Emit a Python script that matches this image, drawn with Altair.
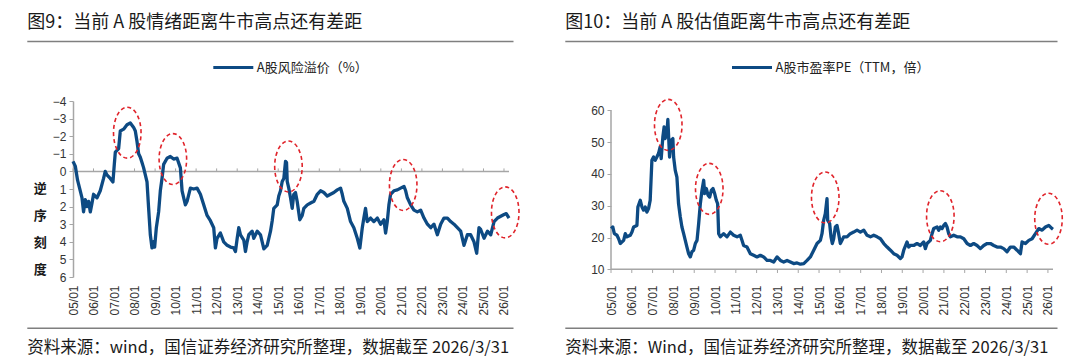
import altair as alt
import pandas as pd

# ---------------- text ----------------
TITLE_L = "图9：当前 A 股情绪距离牛市高点还有差距"
TITLE_R = "图10：当前 A 股估值距离牛市高点还有差距"
SERIES_L = "A股风险溢价（%）"
SERIES_R = "A股市盈率PE（TTM，倍）"
SOURCE_L = "资料来源：wind，国信证券经济研究所整理，数据截至 2026/3/31"
SOURCE_R = "资料来源：Wind，国信证券经济研究所整理，数据截至 2026/3/31"
YTITLE_L = "逆\n序\n刻\n度"

TICK_YEARS = [2005, 2006, 2007, 2008, 2009, 2010, 2011, 2012, 2013, 2014, 2015,
              2016, 2017, 2018, 2019, 2020, 2021, 2022, 2023, 2024, 2025, 2026]
TICK_DATES = ["%d/01/01" % y for y in TICK_YEARS]

# ---------------- left series: A-share equity risk premium (%) ----------------
ERP_DATES = [
    "2005/01/01", "2005/02/11", "2005/03/23", "2005/04/28", "2005/06/10", "2005/07/08", "2005/08/08",
    "2005/09/07", "2005/10/06", "2005/11/05", "2005/12/05", "2006/01/02", "2006/03/04", "2006/05/01",
    "2006/06/29", "2006/07/29", "2006/08/28", "2006/10/26", "2006/12/13", "2007/01/06", "2007/01/24",
    "2007/03/24", "2007/04/23", "2007/06/21", "2007/08/20", "2007/10/18", "2007/12/16", "2008/01/15",
    "2008/02/14", "2008/03/14", "2008/04/13", "2008/05/13", "2008/06/11", "2008/07/11", "2008/08/10",
    "2008/09/08", "2008/10/08", "2008/11/07", "2008/12/06", "2008/12/24", "2009/01/23", "2009/03/05",
    "2009/04/04", "2009/05/04", "2009/06/02", "2009/08/02", "2009/09/29", "2009/11/27", "2010/01/27",
    "2010/03/27", "2010/04/26", "2010/05/25", "2010/06/24", "2010/07/24", "2010/09/21", "2010/11/19",
    "2011/01/18", "2011/03/18", "2011/05/16", "2011/07/15", "2011/09/12", "2011/11/10", "2011/12/10",
    "2012/01/09", "2012/03/08", "2012/05/06", "2012/07/06", "2012/09/03", "2012/11/01", "2012/12/01",
    "2013/01/01", "2013/01/29", "2013/02/28", "2013/04/28", "2013/05/28", "2013/06/27", "2013/07/26",
    "2013/09/24", "2013/10/23", "2013/12/23", "2014/02/20", "2014/04/20", "2014/06/19", "2014/08/17",
    "2014/09/16", "2014/10/14", "2014/12/14", "2015/01/11", "2015/02/11", "2015/03/13", "2015/04/11",
    "2015/05/11", "2015/05/29", "2015/06/10", "2015/07/08", "2015/08/08", "2015/09/07", "2015/10/05",
    "2015/11/04", "2015/12/04", "2016/01/20", "2016/03/03", "2016/04/01", "2016/06/01", "2016/07/30",
    "2016/09/27", "2016/11/26", "2017/01/23", "2017/03/23", "2017/05/23", "2017/07/20", "2017/09/17",
    "2017/11/17", "2018/01/15", "2018/02/14", "2018/03/14", "2018/05/14", "2018/07/11", "2018/09/08",
    "2018/11/08", "2018/12/24", "2019/02/05", "2019/03/05", "2019/04/04", "2019/05/04", "2019/07/02",
    "2019/08/30", "2019/10/30", "2019/12/28", "2020/02/25", "2020/03/26", "2020/04/25", "2020/05/24",
    "2020/06/23", "2020/08/21", "2020/10/21", "2020/12/19", "2021/02/16", "2021/03/18", "2021/04/17",
    "2021/06/15", "2021/08/13", "2021/10/12", "2021/12/10", "2022/02/07", "2022/04/09", "2022/06/07",
    "2022/08/04", "2022/10/03", "2022/12/01", "2023/01/29", "2023/03/31", "2023/05/28", "2023/07/26",
    "2023/09/24", "2023/11/22", "2024/01/20", "2024/03/20", "2024/05/17", "2024/07/16", "2024/09/02",
    "2024/10/13", "2024/11/12", "2025/01/11", "2025/03/13", "2025/05/10", "2025/07/08", "2025/09/07",
    "2025/11/04", "2026/01/02", "2026/02/10", "2026/03/31",
]
ERP_VALUES = [
    -0.57, -0.3, 0.5, 0.95, 1.5, 2.3, 1.6,
    2.0, 1.7, 2.3, 1.8, 1.3, 1.5, 1.1,
    0.4, 0.0, 0.2, 0.4, 0.6, -0.4, -1.1,
    -1.3, -2.3, -2.4, -2.65, -2.75, -2.5, -2.3,
    -1.7, -1.0, -0.8, -0.5, -0.2, 0.2, 0.6,
    2.1, 3.6, 4.35, 4.0, 4.3, 3.2, 2.3,
    1.1, 0.4, -0.4, -0.75, -0.85, -0.7, -0.75,
    -0.2, 1.1, 1.5, 1.9, 1.7, 0.95, 1.0,
    0.95, 1.3, 1.9, 2.5, 2.8, 3.2, 4.35,
    3.8, 3.5, 4.0, 4.2, 4.3, 4.35, 4.55,
    3.8, 3.2, 3.6, 3.9, 4.55, 4.0, 3.6,
    3.4, 3.8, 3.4, 3.6, 4.4, 4.2, 3.4,
    2.8, 2.1, 1.9, 1.4, 1.1, 0.57, 0.4,
    -0.57, -0.5, 0.57, 0.95, 1.5, 2.1, 1.3,
    1.2, 1.7, 2.75, 2.5, 2.1, 1.9, 1.8,
    1.7, 1.3, 1.1, 1.2, 1.4, 1.3, 1.2,
    1.05, 0.95, 1.3, 1.7, 2.1, 2.85, 3.2,
    3.8, 4.35, 3.2, 2.65, 2.1, 2.85, 2.65,
    2.85, 2.65, 3.0, 2.75, 3.5, 2.85, 1.9,
    1.3, 1.1, 1.05, 0.95, 0.85, 1.1, 1.5,
    1.9, 2.2, 2.3, 2.2, 2.65, 3.0, 3.2,
    3.0, 3.6, 3.0, 2.65, 2.65, 2.85, 3.0,
    3.2, 3.4, 4.2, 3.6, 3.6, 4.0, 4.65,
    3.2, 3.3, 3.8, 3.4, 3.6, 2.85, 2.65,
    2.55, 2.45, 2.4, 2.65,
]

# ---------------- right series: A-share PE (TTM) ----------------
PE_DATES = [
    "2005/01/04", "2005/02/01", "2005/03/01", "2005/04/16", "2005/05/15", "2005/06/13", "2005/08/11",
    "2005/09/09", "2005/10/08", "2005/12/06", "2006/01/04", "2006/02/02", "2006/04/01", "2006/04/18",
    "2006/05/30", "2006/06/28", "2006/07/27", "2006/08/25", "2006/09/23", "2006/10/22", "2006/11/20",
    "2006/12/20", "2007/01/18", "2007/02/16", "2007/03/17", "2007/04/15", "2007/05/14", "2007/06/01",
    "2007/06/30", "2007/07/23", "2007/08/10", "2007/09/09", "2007/09/26", "2007/10/26", "2007/11/24",
    "2007/12/23", "2008/01/05", "2008/02/03", "2008/03/03", "2008/04/01", "2008/05/01", "2008/05/30",
    "2008/06/29", "2008/07/28", "2008/08/26", "2008/09/25", "2008/10/24", "2008/11/22", "2008/12/22",
    "2009/01/20", "2009/02/19", "2009/03/20", "2009/04/18", "2009/05/17", "2009/06/16", "2009/07/03",
    "2009/08/01", "2009/08/31", "2009/09/29", "2009/10/28", "2009/11/26", "2009/12/26", "2010/01/24",
    "2010/02/16", "2010/03/06", "2010/04/04", "2010/06/01", "2010/07/30", "2010/09/27", "2010/11/24",
    "2011/01/22", "2011/03/21", "2011/04/19", "2011/05/18", "2011/07/16", "2011/09/13", "2011/11/10",
    "2012/01/08", "2012/03/06", "2012/05/04", "2012/07/02", "2012/08/29", "2012/10/27", "2012/12/25",
    "2013/02/22", "2013/04/21", "2013/06/19", "2013/08/16", "2013/10/13", "2013/12/11", "2014/02/08",
    "2014/04/08", "2014/06/05", "2014/08/02", "2014/09/30", "2014/11/27", "2015/01/24", "2015/02/22",
    "2015/03/23", "2015/04/21", "2015/05/21", "2015/06/02", "2015/07/06", "2015/07/30", "2015/08/22",
    "2015/09/15", "2015/10/14", "2015/11/12", "2015/12/11", "2016/01/10", "2016/02/08", "2016/03/08",
    "2016/05/06", "2016/07/03", "2016/08/31", "2016/10/29", "2016/12/27", "2017/02/24", "2017/04/23",
    "2017/06/21", "2017/08/18", "2017/10/16", "2017/12/14", "2018/02/11", "2018/04/10", "2018/06/07",
    "2018/08/04", "2018/10/01", "2018/11/29", "2018/12/28", "2019/01/27", "2019/03/26", "2019/04/24",
    "2019/05/23", "2019/07/20", "2019/09/17", "2019/11/15", "2020/01/12", "2020/02/10", "2020/03/11",
    "2020/05/08", "2020/06/07", "2020/07/06", "2020/09/03", "2020/10/02", "2020/10/31", "2020/11/30",
    "2020/12/29", "2021/01/27", "2021/02/25", "2021/03/26", "2021/04/24", "2021/06/22", "2021/08/20",
    "2021/10/18", "2021/12/16", "2022/02/12", "2022/04/11", "2022/06/08", "2022/08/06", "2022/10/03",
    "2022/12/01", "2023/01/29", "2023/03/29", "2023/05/26", "2023/07/23", "2023/09/20", "2023/11/17",
    "2024/01/14", "2024/03/13", "2024/05/11", "2024/07/08", "2024/09/05", "2024/10/04", "2024/12/02",
    "2025/01/30", "2025/03/29", "2025/05/27", "2025/07/24", "2025/09/21", "2025/11/18", "2026/01/16",
    "2026/03/15", "2026/03/31",
]
PE_VALUES = [
    22.8, 23.3, 21.2, 20.7, 19.6, 18.1, 19.1,
    21.2, 20.2, 20.7, 21.7, 23.3, 23.8, 29.6,
    31.7, 29.6, 28.6, 29.6, 28.0, 29.1, 31.7,
    44.3, 45.3, 44.3, 45.3, 46.4, 48.5, 44.8,
    51.6, 54.8, 51.1, 52.7, 57.1, 45.3, 50.6,
    51.1, 45.3, 41.1, 39.0, 30.6, 26.5, 23.3,
    21.2, 19.1, 17.0, 14.9, 13.9, 15.5, 16.0,
    18.1, 19.1, 24.4, 30.6, 34.8, 38.0, 33.8,
    35.4, 33.3, 32.7, 34.8, 35.4, 33.8, 31.7,
    30.6, 21.2, 20.2, 21.2, 20.2, 21.7, 20.7,
    20.2, 20.7, 19.1, 17.5, 17.0, 14.9, 14.4,
    13.9, 14.4, 13.9, 12.8, 12.8, 12.3, 13.9,
    12.8, 12.3, 12.8, 12.3, 11.8, 12.0, 11.6,
    11.8, 12.8, 13.9, 16.0, 18.1, 19.1, 21.2,
    25.4, 27.5, 32.2, 25.4, 24.4, 20.2, 18.1,
    19.6, 23.3, 23.8, 21.2, 18.1, 19.1, 20.2,
    20.2, 21.2, 21.7, 22.3, 21.7, 22.3, 20.7,
    20.2, 20.7, 20.2, 19.6, 18.1, 17.0, 16.0,
    14.9, 14.4, 13.4, 13.9, 16.0, 18.6, 17.0,
    17.5, 17.5, 18.1, 17.5, 18.6, 16.5, 18.1,
    19.1, 21.2, 22.8, 23.3, 22.3, 23.3, 22.8,
    23.8, 24.4, 23.3, 21.2, 20.2, 20.7, 20.2,
    20.2, 19.6, 18.1, 17.5, 18.1, 17.5, 16.5,
    17.5, 18.1, 18.1, 17.5, 17.0, 17.0, 16.5,
    15.5, 17.0, 17.0, 16.0, 14.9, 18.6, 18.1,
    19.1, 19.6, 21.2, 22.8, 22.3, 23.3, 23.8,
    22.8, 22.6,
]

# ---------------- red dashed circles (annotation centres) ----------------
CIRCLE_L_DATES = ["2007/08/25", "2009/11/13", "2015/07/02", "2021/02/02", "2026/01/23"]
CIRCLE_L_VALUES = [-2.2, -0.7, -0.28, 0.77, 2.33]
CIRCLE_R_DATES = ["2007/10/03", "2009/09/22", "2015/04/20", "2020/10/30", "2026/01/11"]
CIRCLE_R_VALUES = [55.4, 35.3, 32.6, 26.7, 25.9]

# ---------------- style ----------------
BLUE = "#0d4a83"
RED = "#e0242b"
AXIS_GRAY = "#a6a6a6"
RULE_GRAY = "#7f7f7f"
TEXT = "#1a1a1a"
CJK = "Noto Sans CJK SC"
NUM = "Arial, Liberation Sans, sans-serif"
H = 176
W_L = 436
W_R = 442
ELLIPSE = "M0,-1A0.54,1,0,1,1,0,1A0.54,1,0,1,1,0,-1Z"

DOMAIN_X = [alt.DateTime(year=2005, month=1, date=1), alt.DateTime(year=2026, month=3, date=31)]
TICK_VALUES = [alt.DateTime(year=y, month=1, date=1) for y in TICK_YEARS]


def x_enc():
    return alt.X(
        "date:T",
        scale=alt.Scale(domain=DOMAIN_X, nice=False),
        axis=alt.Axis(values=TICK_VALUES, format="%y/%m", labelAngle=-90, domain=False,
                      ticks=False, grid=False, labelPadding=8, labelFontSize=12, labelFont=NUM,
                      labelColor="#333333", title=None, labelBound=False, labelOverlap=False),
    )


def y_enc(domain, reverse, values, show_domain):
    return alt.Y(
        "value:Q",
        scale=alt.Scale(domain=domain, reverse=reverse, nice=False, zero=False),
        axis=alt.Axis(values=values, grid=False, domain=show_domain, domainColor=AXIS_GRAY,
                      domainWidth=1.5, tickColor=AXIS_GRAY, tickSize=4, tickWidth=1,
                      labelPadding=3, labelFontSize=12, labelFont=NUM, labelColor="#333333",
                      title=None, labelOverlap=False),
    )


def text_layer(txt, x, y, size, align="left", weight="normal", line_height=None):
    kw = dict(align=align, baseline="middle", fontSize=size, font=CJK, color=TEXT, fontWeight=weight)
    if line_height is not None:
        kw.update(lineBreak="\n", lineHeight=line_height)
    return alt.Chart(pd.DataFrame({"t": [txt]})).mark_text(**kw).encode(
        x=alt.value(x), y=alt.value(y), text="t:N")


def hrule(x1, x2, y, color=RULE_GRAY, width=1.5):
    return alt.Chart(pd.DataFrame({"k": [0]})).mark_rule(color=color, strokeWidth=width).encode(
        x=alt.value(x1), x2=alt.value(x2), y=alt.value(y))


def panel(title, series, source, dates, values, c_dates, c_values, width, y_dom, y_rev, y_vals,
          axis_val, tick_to, left_axis, legend_x):
    X = x_enc()
    Y = y_enc(y_dom, y_rev, y_vals, left_axis)
    df = pd.DataFrame({"date": dates, "value": values, "series": series})
    line = alt.Chart(df).mark_line(strokeWidth=3.3, strokeJoin="round").encode(
        x=X, y=Y,
        color=alt.Color("series:N", scale=alt.Scale(range=[BLUE]),
                        legend=alt.Legend(orient="none", legendX=legend_x, legendY=-54.9, title=None,
                                          symbolType="stroke", symbolSize=1600, symbolStrokeWidth=3,
                                          labelFontSize=13, labelFont=CJK, labelColor="#222222",
                                          padding=0, labelOffset=2)))
    base_line = alt.Chart(pd.DataFrame({"value": [axis_val]})).mark_rule(
        color=AXIS_GRAY, strokeWidth=1.5).encode(y=Y)
    ticks = alt.Chart(pd.DataFrame({"date": TICK_DATES, "value": axis_val, "value2": tick_to})).mark_rule(
        color=AXIS_GRAY, strokeWidth=1).encode(x=X, y=Y, y2="value2:Q")
    circles = alt.Chart(pd.DataFrame({"date": c_dates, "value": c_values})).mark_point(
        shape=ELLIPSE, size=2600, filled=False, stroke=RED, strokeWidth=1.6,
        strokeDash=[4, 3], opacity=1).encode(x=X, y=Y)
    layers = [base_line, ticks, line, circles,
              text_layer(title, -45.7, -77.7, 18),
              hrule(-45.7, width + 4.5, -59.4),
              hrule(-45.7, width + 4.5, 227.3),
              text_layer(source, -45.7, 246.8, 16.5)]
    if not left_axis:
        yline = alt.Chart(pd.DataFrame({"date": ["2005/01/01"], "value": [y_vals[0]],
                                        "value2": [y_vals[-1]]})).mark_rule(
            color=AXIS_GRAY, strokeWidth=1.5).encode(x=X, y=Y, y2="value2:Q")
        layers.insert(0, yline)
    return alt.layer(*layers).properties(width=width, height=H)


left = panel(TITLE_L, SERIES_L, SOURCE_L, ERP_DATES, ERP_VALUES, CIRCLE_L_DATES, CIRCLE_L_VALUES,
             W_L, [-4, 6], True, [-4, -3, -2, -1, 0, 1, 2, 3, 4, 5, 6], 0, -0.17, True, 138.8)
left = alt.layer(left, text_layer(YTITLE_L, -32.7, 88.3, 13, align="center", weight="bold",
                                  line_height=27))

right = panel(TITLE_R, SERIES_R, SOURCE_R, PE_DATES, PE_VALUES, CIRCLE_R_DATES, CIRCLE_R_VALUES,
              W_R, [7.58, 62.92], False, [10, 20, 30, 40, 50, 60], 10, 8.84, False, 119.5)

chart = alt.hconcat(left, right, spacing=102, bounds="flush").resolve_scale(
    x="independent", y="independent", color="independent"
).resolve_legend(color="independent").configure_view(stroke=None).properties(
    padding={"left": 18, "top": 6, "right": 5, "bottom": 5}, background="white")

chart.save("out.html", embed_options={"renderer": "svg", "actions": False})
